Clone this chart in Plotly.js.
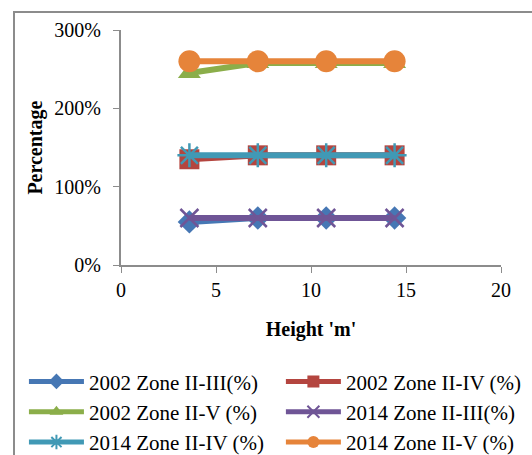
<!DOCTYPE html>
<html>
<head>
<meta charset="utf-8">
<script src="https://cdn.plot.ly/plotly-3.0.1.min.js"></script>
<style>
html,body{margin:0;padding:0;background:#fff;}
#frame{position:absolute;left:13px;top:11px;width:600px;height:500px;border-left:2px solid #8c8c8c;border-top:2px solid #8c8c8c;}
#chart{position:absolute;left:0;top:0;width:532px;height:455px;}
</style>
</head>
<body>
<div id="frame"></div>
<div id="chart"></div>
<script>
var heights = [3.6, 7.2, 10.8, 14.4];
var seriesNames = ["2002 Zone II-III(%)", "2002 Zone II-IV (%)", "2002 Zone II-V (%)", "2014 Zone II-III(%)", "2014 Zone II-IV (%)", "2014 Zone II-V (%)"];
var z2002_23 = [0.55, 0.60, 0.60, 0.60];
var z2002_24 = [1.35, 1.40, 1.40, 1.40];
var z2002_25 = [2.45, 2.58, 2.58, 2.58];
var z2014_23 = [0.60, 0.60, 0.60, 0.60];
var z2014_24 = [1.40, 1.40, 1.40, 1.40];
var z2014_25 = [2.60, 2.60, 2.60, 2.60];
var xTicks = [0, 5, 10, 15, 20];
var yTicks = [0, 1, 2, 3];
var xTitle = "Height 'm'";
var yTitle = "Percentage";

var colors = ["#4677B4", "#B4453F", "#8BAE4A", "#6F5596", "#4199B5", "#E6843A"];
var symbols = ["diamond", "square", "triangle-up", "x-thin-open", "asterisk-open", "circle"];
var sizes = [18, 20, 20, 18, 20, 22];
var data = [z2002_23, z2002_24, z2002_25, z2014_23, z2014_24, z2014_25];
var legendOf = ["legend", "legend2", "legend", "legend2", "legend", "legend2"];

var traces = data.map(function(vals, i){
  var open = symbols[i].indexOf("open") >= 0;
  return {
    x: heights, y: vals, name: seriesNames[i], type: "scatter", mode: "lines+markers",
    legend: legendOf[i],
    line: {color: colors[i], width: 6},
    marker: {symbol: symbols[i], size: sizes[i], color: colors[i],
             line: {color: colors[i], width: open ? 2.5 : 0}}
  };
});

var font = {family: "Liberation Serif, Times New Roman, serif", size: 20, color: "#000"};
var legFont = {family: "Liberation Serif, Times New Roman, serif", size: 21, color: "#000"};
function leg(x){
  return {orientation: "v", xref: "container", yref: "container", x: x, y: 0.206, xanchor: "left", yanchor: "top",
          itemwidth: 55, font: legFont, traceorder: "normal", itemsizing: "constant", bgcolor: "rgba(0,0,0,0)"};
}
var layout = {
  width: 532, height: 455,
  margin: {l: 121, r: 31, t: 30, b: 190, autoexpand: false},
  paper_bgcolor: "rgba(0,0,0,0)", plot_bgcolor: "rgba(0,0,0,0)",
  font: font,
  showlegend: true,
  legend: leg(0.045),
  legend2: leg(0.528),
  xaxis: {range: [0, 20], tickvals: xTicks, ticks: "outside", ticklen: 6, tickcolor: "#8c8c8c",
          showline: true, linecolor: "#8c8c8c", linewidth: 2, showgrid: false, zeroline: false,
          title: {text: "<b>" + xTitle + "</b>", font: font}},
  yaxis: {range: [0, 3], tickvals: yTicks, tickformat: ".0%", ticks: "outside", ticklen: 6, tickcolor: "#8c8c8c",
          ticklabelstandoff: 8,
          showline: true, linecolor: "#8c8c8c", linewidth: 2, showgrid: false, zeroline: false},
  annotations: [{text: "<b>" + yTitle + "</b>", xref: "paper", yref: "paper", x: -0.226, y: 0.5,
                 xanchor: "center", yanchor: "middle", textangle: -90, showarrow: false, font: font}]
};
Plotly.newPlot("chart", traces, layout, {displayModeBar: false, staticPlot: true});
</script>
</body>
</html>
